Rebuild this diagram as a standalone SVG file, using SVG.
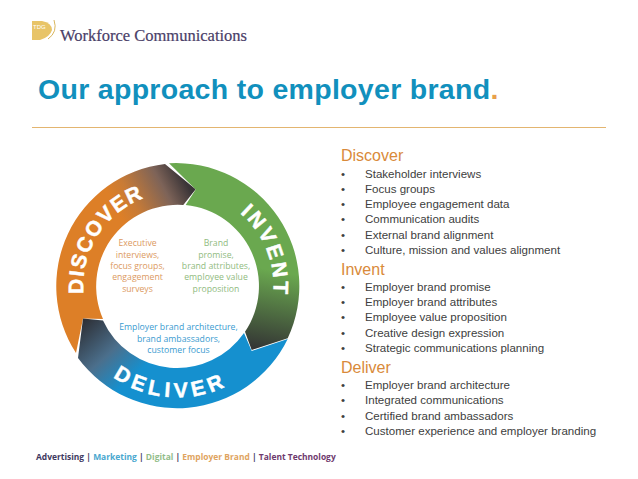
<svg xmlns="http://www.w3.org/2000/svg" width="638" height="479" viewBox="0 0 638 479">
<style>
.b{font-family:"Liberation Sans",Arial,sans-serif;font-size:11.55px;fill:#404040}
.h{font-family:"Liberation Sans",Arial,sans-serif;font-size:16px;fill:#d98a3a}
.r{font-family:"Liberation Sans",Arial,sans-serif;font-weight:700;fill:#fff;font-size:21px;stroke:#fff;stroke-width:0.5}
.i{font-family:"Open Sans","Liberation Sans",sans-serif;font-size:8.7px;text-anchor:middle}
.f{font-family:"Open Sans","Liberation Sans",sans-serif;font-weight:700;font-size:8.45px;fill:#3f3a5f}
</style>
<defs>
<linearGradient id="gd" gradientUnits="userSpaceOnUse" x1="125" y1="225" x2="190" y2="190"><stop offset="0" stop-color="#dd7f27"/><stop offset="0.25" stop-color="#c87b36"/><stop offset="0.7" stop-color="#7d6358"/><stop offset="1" stop-color="#3a3437"/></linearGradient>
<linearGradient id="gi" gradientUnits="userSpaceOnUse" x1="270" y1="270" x2="255" y2="350"><stop offset="0" stop-color="#6aa84f"/><stop offset="1" stop-color="#333334"/></linearGradient>
<linearGradient id="gl" gradientUnits="userSpaceOnUse" x1="135" y1="375" x2="85" y2="320"><stop offset="0" stop-color="#1590cf"/><stop offset="0.45" stop-color="#4b6f8c"/><stop offset="1" stop-color="#2e3138"/></linearGradient>
<path id="pd" d="M83.5,294 A94 94 0 0 1 147,197"/>
<path id="pi" d="M240,213 A96 96 0 0 1 273,296"/>
<path id="pl" d="M113,377 A111 111 0 0 0 232,383"/>
</defs>
<g id="logo">
<path d="M32,21 L42,21 Q52,23 52,30 Q50,37 40,40 L32,40 Z" fill="#e8c468"/>
<path d="M54,20 Q58,32 48,39" fill="none" stroke="#d9b65e" stroke-width="1"/>
<text x="33" y="29" font-family="Liberation Sans,sans-serif" font-size="6" fill="#fff">TDG</text>
<text x="60" y="40.5" font-family="Liberation Serif,serif" font-size="16.5px" fill="#4a4068" stroke="#4a4068" stroke-width="0.2">Workforce Communications</text>
</g>
<g id="title">
<text x="38" y="99" font-family="Liberation Sans,sans-serif" font-weight="700" font-size="28.5px" letter-spacing="0.3" fill="#1190bd">Our approach to employer brand<tspan fill="#e8a04a">.</tspan></text>
<rect x="32" y="127" width="574" height="1" fill="#e3b570"/>
</g>
<g id="discover">
<path d="M76,353 A123 123 0 0 1 165,164 L195.7,189.3 L183.3,205 A81.5 81.5 0 0 0 103,319 L83,318.5 Z" fill="url(#gd)"/>
<text class="r" letter-spacing="1.6"><textPath href="#pd">DISCOVER</textPath></text>
<text class="i" fill="#dc9a5f"><tspan x="137.5" y="246">Executive</tspan><tspan x="137.5" y="257.5">interviews,</tspan><tspan x="137.5" y="269">focus groups,</tspan><tspan x="137.5" y="280">engagement</tspan><tspan x="137.5" y="291.5">surveys</tspan></text>
</g>
<g id="invent">
<path d="M169,163.3 A123 123 0 0 1 287.7,338.3 L251.7,350 L245,331.7 A81.5 81.5 0 0 0 185.7,205 L195.7,189.5 Z" fill="url(#gi)"/>
<text class="r" letter-spacing="2.7"><textPath href="#pi">INVENT</textPath></text>
<text class="i" fill="#90bb80"><tspan x="216" y="246">Brand</tspan><tspan x="216" y="257.5">promise,</tspan><tspan x="216" y="269">brand attributes,</tspan><tspan x="216" y="280">employee value</tspan><tspan x="216" y="291.5">proposition</tspan></text>
</g>
<g id="deliver">
<path d="M287.7,339 A123 123 0 0 1 78,358 L83,318.5 L103,320.5 A81.5 81.5 0 0 0 244,333 L251.7,351 Z" fill="url(#gl)"/>
<text class="r" letter-spacing="4.4"><textPath href="#pl">DELIVER</textPath></text>
<text class="i" fill="#3a9bd0"><tspan x="178.5" y="330">Employer brand architecture,</tspan><tspan x="178.5" y="341.5">brand ambassadors,</tspan><tspan x="178.5" y="353">customer focus</tspan></text>
</g>
<g id="list">
<text class="h" x="341" y="161">Discover</text>
<text class="b"><tspan x="341" y="178">•</tspan><tspan x="365" y="178">Stakeholder interviews</tspan><tspan x="341" y="193">•</tspan><tspan x="365" y="193">Focus groups</tspan><tspan x="341" y="208">•</tspan><tspan x="365" y="208">Employee engagement data</tspan><tspan x="341" y="223">•</tspan><tspan x="365" y="223">Communication audits</tspan><tspan x="341" y="239">•</tspan><tspan x="365" y="239">External brand alignment</tspan><tspan x="341" y="254">•</tspan><tspan x="365" y="254">Culture, mission and values alignment</tspan></text>
<text class="h" x="341" y="275">Invent</text>
<text class="b"><tspan x="341" y="291">•</tspan><tspan x="365" y="291">Employer brand promise</tspan><tspan x="341" y="306">•</tspan><tspan x="365" y="306">Employer brand attributes</tspan><tspan x="341" y="321">•</tspan><tspan x="365" y="321">Employee value proposition</tspan><tspan x="341" y="337">•</tspan><tspan x="365" y="337">Creative design expression</tspan><tspan x="341" y="352">•</tspan><tspan x="365" y="352">Strategic communications planning</tspan></text>
<text class="h" x="341" y="373">Deliver</text>
<text class="b"><tspan x="341" y="389">•</tspan><tspan x="365" y="389">Employer brand architecture</tspan><tspan x="341" y="404">•</tspan><tspan x="365" y="404">Integrated communications</tspan><tspan x="341" y="420">•</tspan><tspan x="365" y="420">Certified brand ambassadors</tspan><tspan x="341" y="435">•</tspan><tspan x="365" y="435">Customer experience and employer branding</tspan></text>
</g>
<g id="footer">
<text class="f" x="36" y="460">Advertising | <tspan fill="#4aa8cf">Marketing</tspan> | <tspan fill="#93bd8a">Digital</tspan> | <tspan fill="#e0a45f">Employer Brand</tspan> | <tspan fill="#6e3a6e">Talent Technology</tspan></text>
</g>
</svg>
